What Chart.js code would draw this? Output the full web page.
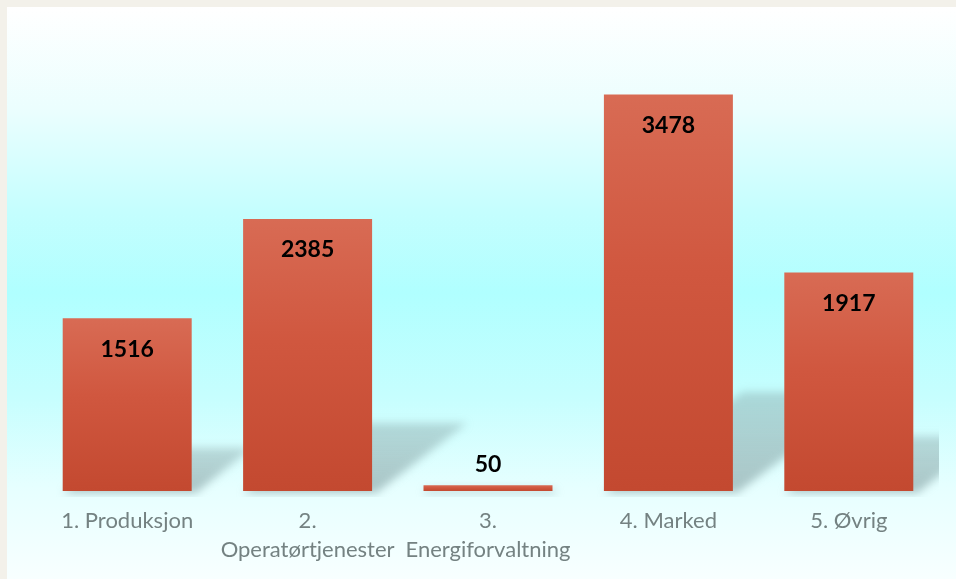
<!DOCTYPE html>
<html>
<head>
<meta charset="utf-8">
<script src="https://cdn.jsdelivr.net/npm/chart.js@4.4.0/dist/chart.umd.min.js"></script>
<style>
  html, body { margin: 0; padding: 0; background: #f3f1ea; }
  #wrap {
    position: absolute; left: 7px; top: 7px; width: 949px; height: 572px;
    background: linear-gradient(to bottom, #ffffff 0%, #ebfefe 18%, #c4fefe 36%, #b0ffff 50%, #c6fefe 68%, #e6ffff 84%, #f8ffff 100%);
  }
</style>
</head>
<body>
<div id="wrap"><canvas id="myChart"></canvas></div>
<script>
const categories = [
    '1. Produksjon',
    ['2.', 'Operatørtjenester'],
    ['3.', 'Energiforvaltning'],
    '4. Marked',
    '5. Øvrig',
];
const values = [1516, 2385, 50, 3478, 1917];

// skewed shadow behind each bar + value labels
const barExtras = {
    id: 'barExtras',
    beforeDatasetsDraw(chart) {
        const ctx = chart.ctx;
        const area = chart.chartArea;
        const bars = chart.getDatasetMeta(0).data;
        ctx.save();
        ctx.beginPath();
        ctx.rect(area.left, area.top, area.right - area.left, area.bottom - area.top + 6);
        ctx.clip();
        ctx.filter = 'blur(4px)';
        bars.forEach(bar => {
            const left = bar.x - bar.width / 2;
            const right = bar.x + bar.width / 2;
            const h = (bar.base - bar.y) * 0.25;
            const dx = h * 1.4;
            const g = ctx.createLinearGradient(0, bar.base, 0, bar.base - h);
            g.addColorStop(0, 'rgba(120,150,152,0.55)');
            g.addColorStop(1, 'rgba(120,150,152,0.35)');
            ctx.fillStyle = g;
            ctx.beginPath();
            ctx.moveTo(left, bar.base + 2);
            ctx.lineTo(right + 4, bar.base + 2);
            ctx.lineTo(right + dx, bar.base - h);
            ctx.lineTo(left + dx, bar.base - h);
            ctx.closePath();
            ctx.fill();
        });
        ctx.restore();
    },
    afterDatasetsDraw(chart) {
        const ctx = chart.ctx;
        const bars = chart.getDatasetMeta(0).data;
        ctx.save();
        ctx.font = 'bold 23px Lato';
        ctx.fillStyle = '#000000';
        ctx.textAlign = 'center';
        ctx.textBaseline = 'middle';
        bars.forEach((bar, i) => {
            const tall = bar.base - bar.y > 45;
            const y = tall ? bar.y + 31 : bar.y - 21;
            ctx.fillText(String(values[i]), bar.x, y);
        });
        ctx.restore();
    }
};

const data = {
    labels: categories,
    datasets: [{
        label: 'Antall',
        data: values,
        backgroundColor: (c) => {
            const chart = c.chart;
            if (!chart.chartArea || c.type !== 'data') return '#cf5a40';
            const y = chart.scales.y;
            const top = y.getPixelForValue(c.raw);
            const bottom = y.getPixelForValue(0);
            if (bottom - top < 2) return '#d05a40';
            const g = chart.ctx.createLinearGradient(0, top, 0, bottom);
            g.addColorStop(0, '#d86b54');
            g.addColorStop(0.45, '#d0573f');
            g.addColorStop(1, '#c34930');
            return g;
        },
        borderWidth: 0,
        categoryPercentage: 1,
        barPercentage: 0.715,
    }]
};

const config = {
    type: 'bar',
    data: data,
    options: {
        responsive: true,
        maintainAspectRatio: false,
        animation: false,
        layout: { padding: { left: 30, right: 17, top: 28, bottom: 0 } },
        plugins: {
            legend: { display: false },
            tooltip: { enabled: false },
        },
        scales: {
            x: {
                grid: { display: false, drawTicks: false },
                border: { display: false },
                ticks: {
                    color: '#748282',
                    font: { family: 'Lato', size: 22, lineHeight: 1.32 },
                    padding: 15,
                    maxRotation: 0,
                    autoSkip: false,
                },
            },
            y: {
                display: false,
                min: 0,
                max: 4000,
            },
        },
    },
    plugins: [barExtras],
};

const myChart = new Chart(document.getElementById('myChart'), config);
</script>
</body>
</html>
